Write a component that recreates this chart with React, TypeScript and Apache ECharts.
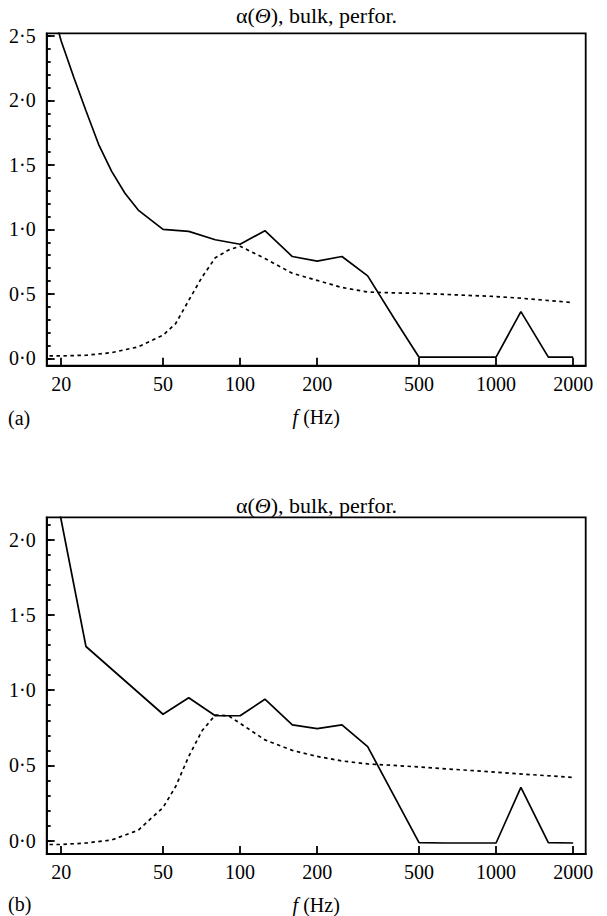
import React, { useEffect, useRef } from 'react';
import * as echarts from 'echarts';

// ---- axis ticks ----
const FREQ_TICKS = [20, 50, 100, 200, 500, 1000, 2000];
const Y_TICKS_A = [0, 0.5, 1, 1.5, 2, 2.5];
const Y_MINOR_A = [0, 0.1, 0.2, 0.3, 0.4, 0.5, 0.6, 0.7, 0.8, 0.9, 1, 1.1, 1.2, 1.3, 1.4, 1.5, 1.6, 1.7, 1.8, 1.9, 2, 2.1, 2.2, 2.3, 2.4, 2.5];
const Y_TICKS_B = [0, 0.5, 1, 1.5, 2];
const Y_MINOR_B = [0, 0.1, 0.2, 0.3, 0.4, 0.5, 0.6, 0.7, 0.8, 0.9, 1, 1.1, 1.2, 1.3, 1.4, 1.5, 1.6, 1.7, 1.8, 1.9, 2, 2.1];

// ---- panel (a) ----
const A_SOLID_F = [19, 20, 21, 22.4, 25, 28, 31.5, 35.5, 40, 50, 63, 80, 100, 125, 160, 200, 250, 315, 400, 500, 630, 800, 1000, 1250, 1600, 2000];
const A_SOLID_V = [2.62, 2.46, 2.34, 2.18, 1.92, 1.66, 1.45, 1.28, 1.15, 1.0, 0.985, 0.92, 0.885, 0.99, 0.79, 0.755, 0.79, 0.64, 0.31, 0.01, 0.01, 0.01, 0.01, 0.363, 0.01, 0.01];
const A_DASH_F = [18, 20, 25, 31.5, 40, 50, 56, 63, 71, 80, 90, 100, 125, 160, 200, 250, 315, 400, 500, 1000, 1250, 2000];
const A_DASH_V = [0.02, 0.02, 0.025, 0.045, 0.09, 0.18, 0.27, 0.45, 0.63, 0.78, 0.84, 0.87, 0.775, 0.66, 0.605, 0.55, 0.515, 0.508, 0.505, 0.48, 0.467, 0.433];

// ---- panel (b) ----
const B_SOLID_F = [19, 20, 25, 50, 63, 80, 100, 125, 160, 200, 250, 315, 500, 630, 800, 1000, 1250, 1600, 2000];
const B_SOLID_V = [2.32, 2.13, 1.29, 0.84, 0.95, 0.83, 0.83, 0.94, 0.77, 0.745, 0.77, 0.625, -0.012, -0.015, -0.015, -0.015, 0.355, -0.012, -0.015];
const B_DASH_F = [18, 20, 25, 31.5, 40, 45, 50, 56, 63, 71, 80, 90, 100, 125, 160, 200, 250, 315, 400, 500, 1000, 2000];
const B_DASH_V = [-0.025, -0.025, -0.015, 0.005, 0.07, 0.15, 0.22, 0.36, 0.56, 0.73, 0.835, 0.83, 0.78, 0.67, 0.6, 0.56, 0.53, 0.51, 0.5, 0.49, 0.455, 0.42];

const TITLE = 'α({i|Θ}), bulk, perfor.';
const X_NAME = '{i|f} (Hz)';

const FONT = 'Liberation Serif, serif';
const FS = 20;
const TFS = 22;

const pairs = (f: number[], v: number[]) => f.map((x, i) => [x, v[i]]);
const fmtY = (v: number) => Number(v).toFixed(1).replace('.', '\u00B7');

function xAxisFor(gridIndex: number) {
  return {
    type: 'log',
    logBase: 10,
    gridIndex,
    min: 17.56,
    max: 2239,
    axisLine: { show: true, onZero: false, lineStyle: { color: '#000', width: 1.8 } },
    axisTick: { show: true, inside: true, length: 8, customValues: FREQ_TICKS, lineStyle: { color: '#000', width: 1.8 } },
    axisLabel: {
      show: true,
      customValues: FREQ_TICKS,
      formatter: (v: number) => String(Math.round(v)),
      color: '#000',
      fontFamily: FONT,
      fontSize: FS,
      margin: 8,
      hideOverlap: false,
    },
    splitLine: { show: false },
    minorTick: { show: false },
    name: X_NAME,
    nameLocation: 'middle',
    nameGap: 41,
    nameTextStyle: {
      color: '#000',
      fontFamily: FONT,
      fontSize: FS,
      rich: { i: { fontStyle: 'italic', fontFamily: FONT, fontSize: FS, color: '#000' } },
    },
  };
}

function yAxesFor(gridIndex: number, min: number, max: number, ticks: number[], minor: number[]) {
  return [
    {
      type: 'value',
      gridIndex,
      min,
      max,
      axisLine: { show: true, onZero: false, lineStyle: { color: '#000', width: 1.8 } },
      axisTick: { show: true, inside: true, length: 8, customValues: ticks, lineStyle: { color: '#000', width: 1.8 } },
      axisLabel: {
        show: true,
        customValues: ticks,
        formatter: fmtY,
        color: '#000',
        fontFamily: FONT,
        fontSize: FS,
        margin: 11,
      },
      splitLine: { show: false },
    },
    {
      type: 'value',
      gridIndex,
      min,
      max,
      position: 'left',
      axisLine: { show: false },
      axisTick: { show: true, inside: true, length: 4, customValues: minor, lineStyle: { color: '#000', width: 1.8 } },
      axisLabel: { show: false },
      splitLine: { show: false },
    },
  ];
}

const solid = { color: '#000', width: 1.7, type: 'solid' };
const dashed = { color: '#000', width: 1.7, type: [3.5, 3.5] };

export default function App() {
  const ref = useRef<HTMLDivElement>(null);
  useEffect(() => {
    if (!ref.current) return;
    const chart = echarts.init(ref.current, null, { renderer: 'svg' });
    const gridBase = { left: 46.7, right: 21.3, show: true, borderColor: '#000', borderWidth: 1.8, backgroundColor: 'transparent', containLabel: false };
    const titleText = (y: number) => ({
      type: 'text',
      x: 316.5,
      y,
      style: {
        text: TITLE,
        textAlign: 'center',
        textVerticalAlign: 'middle',
        fontFamily: FONT,
        fontSize: TFS,
        fill: '#000',
        rich: { i: { fontStyle: 'italic', fontFamily: FONT, fontSize: TFS, fill: '#000' } },
      },
    });
    const tag = (t: string, y: number) => ({
      type: 'text',
      x: 8,
      y,
      style: { text: t, textAlign: 'left', textVerticalAlign: 'middle', fontFamily: FONT, fontSize: FS, fill: '#000' },
    });
    const option: any = {
      animation: false,
      backgroundColor: '#fff',
      grid: [
        { ...gridBase, top: 33.3, height: 332.4 },
        { ...gridBase, top: 517.3, height: 337.7 },
      ],
      xAxis: [xAxisFor(0), xAxisFor(1)],
      yAxis: [
        ...yAxesFor(0, -0.056, 2.52, Y_TICKS_A, Y_MINOR_A),
        ...yAxesFor(1, -0.088, 2.148, Y_TICKS_B, Y_MINOR_B),
      ],
      series: [
        { type: 'line', name: 'a-solid', xAxisIndex: 0, yAxisIndex: 0, data: pairs(A_SOLID_F, A_SOLID_V), showSymbol: false, symbol: 'none', lineStyle: solid, clip: true },
        { type: 'line', name: 'a-dashed', xAxisIndex: 0, yAxisIndex: 0, data: pairs(A_DASH_F, A_DASH_V), showSymbol: false, symbol: 'none', lineStyle: dashed, clip: true },
        { type: 'line', name: 'b-solid', xAxisIndex: 1, yAxisIndex: 2, data: pairs(B_SOLID_F, B_SOLID_V), showSymbol: false, symbol: 'none', lineStyle: solid, clip: true },
        { type: 'line', name: 'b-dashed', xAxisIndex: 1, yAxisIndex: 2, data: pairs(B_DASH_F, B_DASH_V), showSymbol: false, symbol: 'none', lineStyle: dashed, clip: true },
      ],
      graphic: [titleText(15.5), titleText(505.7), tag('(a)', 418), tag('(b)', 904)],
    };
    chart.setOption(option);
    return () => chart.dispose();
  }, []);
  return (
    <div
      ref={ref}
      style={{ position: 'fixed', left: 0, top: 0, width: 607, height: 916, background: '#fff' }}
    />
  );
}
